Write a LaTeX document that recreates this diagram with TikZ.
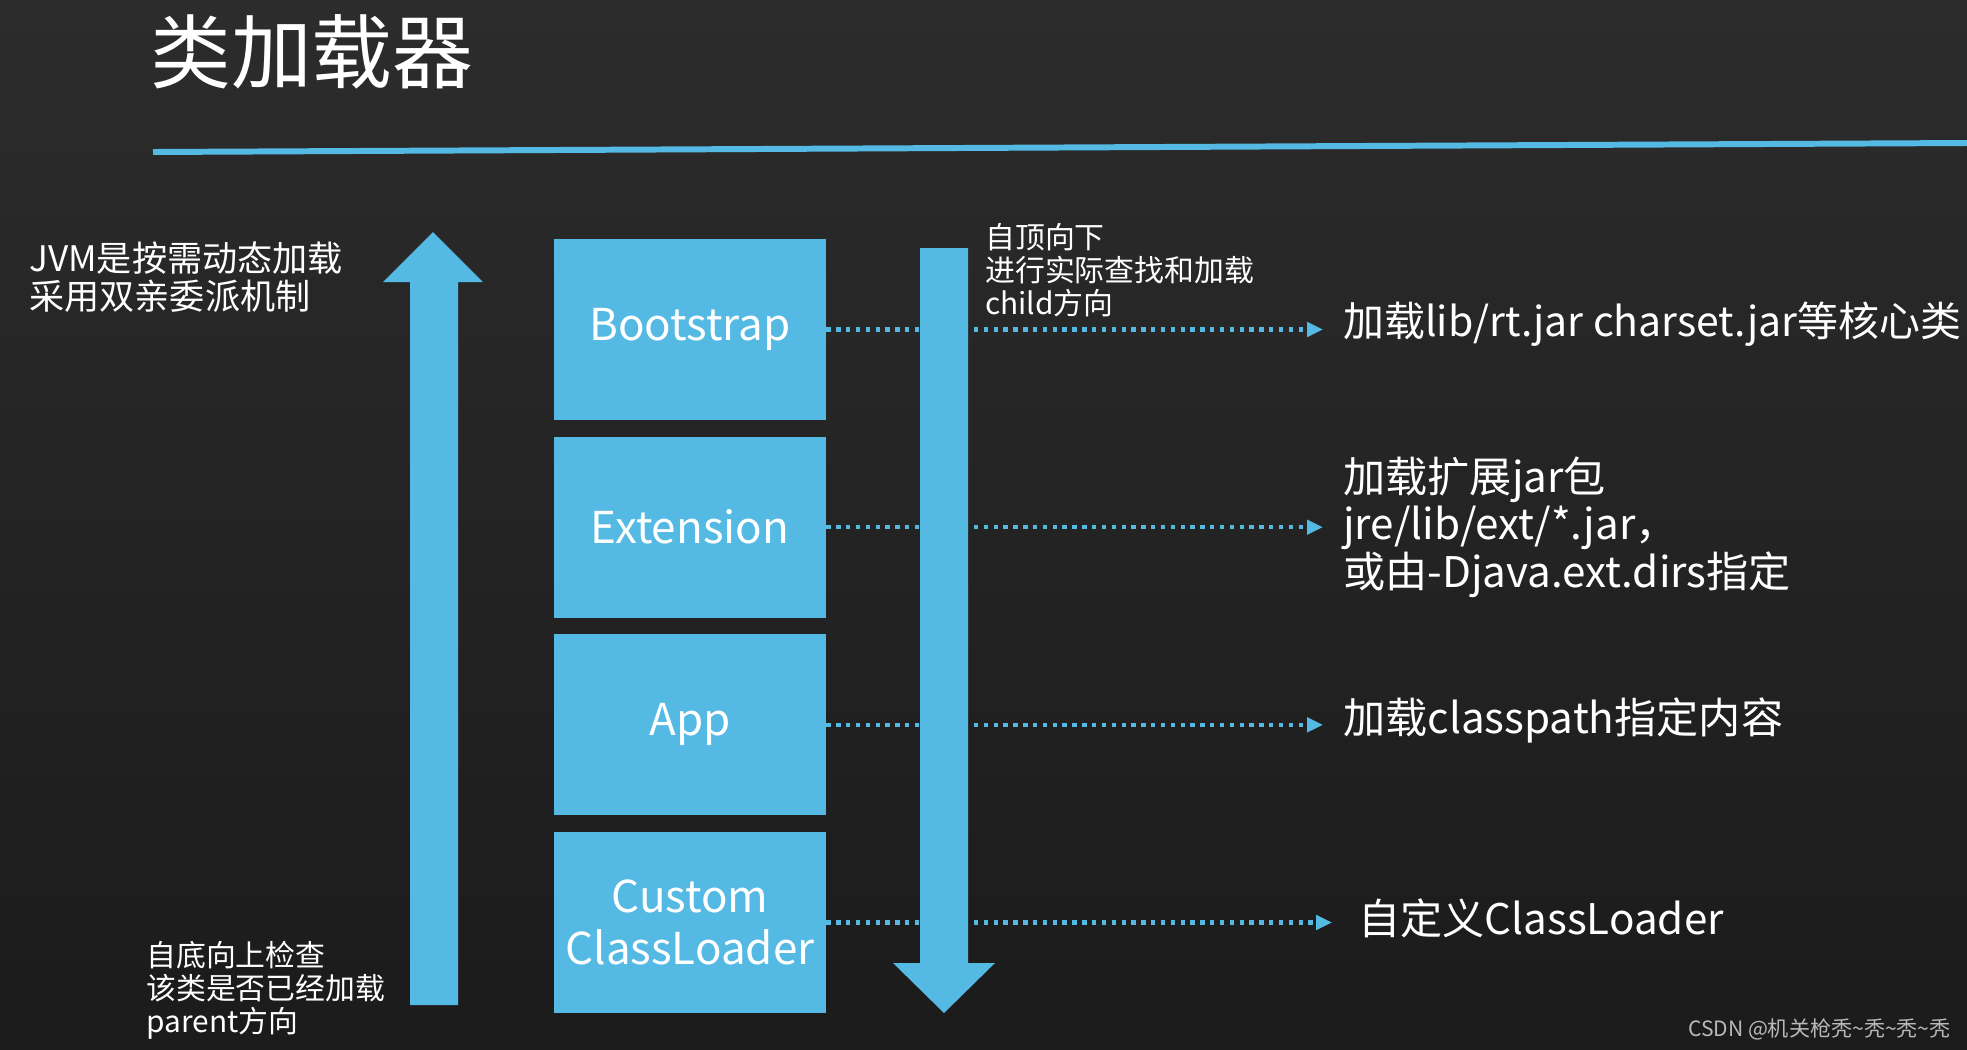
\documentclass[tikz,border=0pt]{standalone}
\usepackage{fontspec}
\setmainfont{Noto Sans CJK SC}
\usetikzlibrary{positioning,arrows.meta}
\definecolor{loaderblue}{RGB}{84,186,228}
\definecolor{boardtop}{RGB}{44,44,44}
\definecolor{boardbottom}{RGB}{27,27,27}
\definecolor{marktext}{RGB}{185,185,185}
\tikzset{
	loaderbox/.style={shape=rectangle, fill=loaderblue, minimum width=5.44cm, minimum height=3.62cm, inner sep=0pt, text=white, align=center, font=\fontsize{25}{30}\selectfont},
	loadline/.style={draw=loaderblue, line width=2.6pt, dash pattern=on 2.5pt off 3.1pt, -{Triangle[length=9pt, width=8pt, fill=loaderblue]}},
	notetext/.style={anchor=west, inner sep=0pt, text=white, align=left},
	bignote/.style={notetext, font=\fontsize{24}{27}\selectfont},
}
\begin{document}
\begin{tikzpicture}[x=0.02cm, y=-0.02cm]
	% Board and title:
	\shade[top color=boardtop, bottom color=boardbottom] (0,0) rectangle (1967,1049);
	\useasboundingbox (0,0) rectangle (1967,1049);
	\node[notetext, font=\fontsize{46}{50}\selectfont] (title) at (150,52) {类加载器};
	\draw[loaderblue, line width=3.4pt] (153,152) -- (1967,143);
	% Loaders:
	\node[loaderbox] (boot) at (690,329.5) {Bootstrap};
	\node[loaderbox, below=0.32cm of boot] (ext) {Extension};
	\node[loaderbox, below=0.32cm of ext] (app) {App};
	\node[loaderbox, below=0.32cm of app] (custom) {Custom\\ClassLoader};
	% What each one loads:
	\node[bignote, font=\fontsize{23.3}{27}\selectfont] (bootnote) at (1343,324) {加载lib/rt.jar charset.jar等核心类};
	\node[bignote] (extnote) at (1343,527) {加载扩展jar包\\jre/lib/ext/*.jar，\\或由-Djava.ext.dirs指定};
	\node[bignote] (appnote) at (1343,720) {加载classpath指定内容};
	\node[bignote] (customnote) at (1358,918) {自定义ClassLoader};
	\draw[loadline, shorten >=0.4cm] (boot.east) -- (boot.east -| bootnote.west);
	\draw[loadline, shorten >=0.4cm] (ext.east) -- (ext.east -| extnote.west);
	\draw[loadline, shorten >=0.4cm] (app.east) -- (app.east -| appnote.west);
	\draw[loadline, shorten >=0.52cm] (custom.east) -- (custom.east -| customnote.west);
	% Direction arrows:
	\fill[loaderblue] (410,1005) -- (410,282) -- (383,282) -- (433,232) -- (483,282) -- (458,282) -- (458,1005) -- cycle;
	\fill[loaderblue] (920,248) -- (968,248) -- (968,963) -- (995,963) -- (944,1013) -- (893,963) -- (920,963) -- cycle;
	% Side notes:
	\node[notetext, font=\fontsize{20}{21.6}\selectfont] (jvmnote) at (29,277) {JVM是按需动态加载\\采用双亲委派机制};
	\node[notetext, font=\fontsize{17}{18.8}\selectfont] (downnote) at (985,270) {自顶向下\\进行实际查找和加载\\child方向};
	\node[notetext, font=\fontsize{17}{18.8}\selectfont] (upnote) at (146,990) {自底向上检查\\该类是否已经加载\\parent方向};
	\node[anchor=east, inner sep=0pt, text=marktext, font=\fontsize{12}{14}\selectfont] (mark) at (1951,1029) {CSDN @机关枪秃\textasciitilde 秃\textasciitilde 秃\textasciitilde 秃};
\end{tikzpicture}
\end{document}
